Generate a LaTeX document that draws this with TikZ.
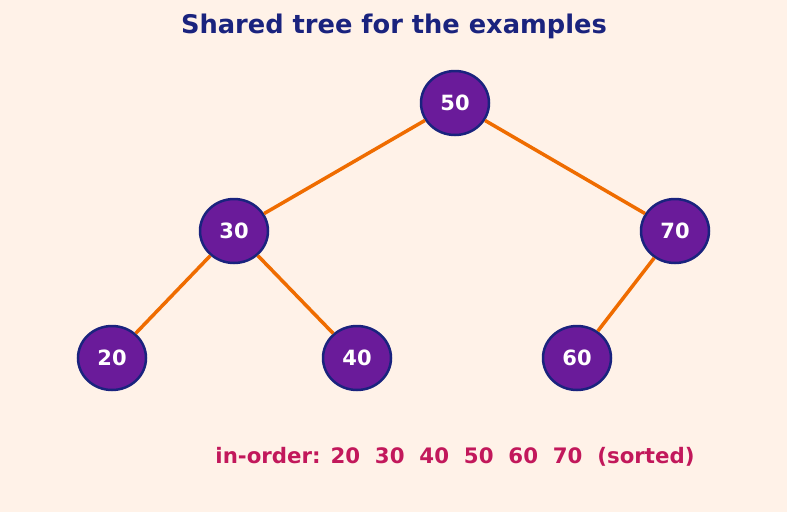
\documentclass[tikz,border=0pt]{standalone}
\usepackage{fontspec}
\setmainfont{DejaVu Sans}
\usetikzlibrary{shapes.geometric}
\definecolor{paper}{HTML}{FFF2E8}
\definecolor{navy}{HTML}{1A237E}
\definecolor{plum}{HTML}{6A1B9A}
\definecolor{edgeorange}{HTML}{EF6C00}
\definecolor{crimson}{HTML}{C2185B}
\begin{document}
\begin{tikzpicture}[x=1pt,y=-1pt,
    key/.style={ellipse,draw=navy,line width=2.5pt,fill=plum,text=white,
      minimum width=68pt,minimum height=64pt,inner sep=0pt,
      font=\bfseries\fontsize{21}{21}\selectfont}]
      \fill[paper] (0,0) rectangle (787,512);
      \node[text=navy,font=\bfseries\fontsize{25.7}{26}\selectfont] (title) at (394,26) {Shared tree for the examples};
      \draw
        (455,103) node[key] (50){50}
        (234,231) node[key] (30){30}
        (675,231) node[key] (70){70}
        (112,358) node[key] (20){20}
        (357,358) node[key] (40){40}
        (577,358) node[key] (60){60};
      \begin{scope}[-,edgeorange,line width=3.5pt]
        \draw (50) to (30);
        \draw (50) to (70);
        \draw (30) to (20);
        \draw (30) to (40);
        \draw (70) to (60);
      \end{scope}
      \node[text=crimson,font=\bfseries\fontsize{21.3}{22}\selectfont] (order) at (455,457)
        {in-order: 20\ \ 30\ \ 40\ \ 50\ \ 60\ \ 70\ \ (sorted)};
    \end{tikzpicture}
\end{document}
